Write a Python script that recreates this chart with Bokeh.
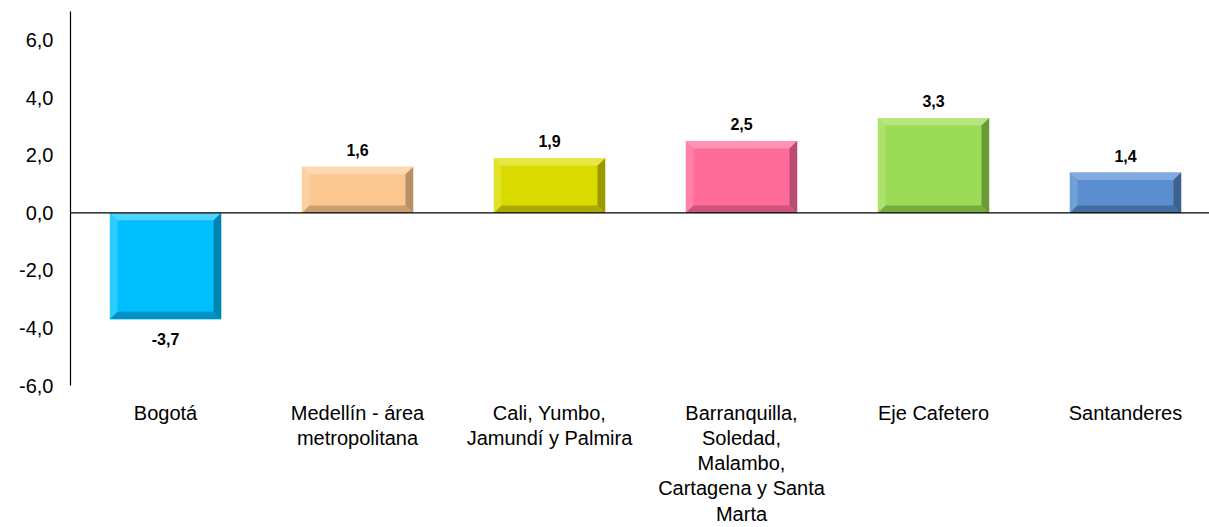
from bokeh.plotting import figure
from bokeh.models import ColumnDataSource, FixedTicker, Span, Range1d
from bokeh.embed import file_html
from bokeh.resources import INLINE
from bokeh.core.properties import value

# ---- data ----
categories = ["Bogotá", "Medellín - área metropolitana", "Cali, Yumbo, Jamundí y Palmira",
              "Barranquilla, Soledad, Malambo, Cartagena y Santa Marta", "Eje Cafetero", "Santanderes"]
tick_labels = ["Bogotá", "Medellín - área\nmetropolitana", "Cali, Yumbo,\nJamundí y Palmira",
               "Barranquilla,\nSoledad,\nMalambo,\nCartagena y Santa\nMarta", "Eje Cafetero", "Santanderes"]
values = [-3.7, 1.6, 1.9, 2.5, 3.3, 1.4]
colors = ["#00BFFF", "#FAC791", "#DADA00", "#FF6B9A", "#9BDB55", "#5A8ED0"]
light = ["#66D9FF", "#FDDDB8", "#EAEA55", "#FF9DBD", "#BDEA8A", "#8FB3E2"]
dark = ["#00759C", "#A8825C", "#8A8A00", "#A84566", "#5E8A33", "#36577F"]
y_ticks = [-6, -4, -2, 0, 2, 4, 6]

FONT = "Liberation Sans"

xs = list(range(len(categories)))
half_w = 0.29
bx, by = 0.04, 0.26

p = figure(width=1209, height=527, output_backend="svg", toolbar_location=None,
           x_range=Range1d(-0.495, 5.4375), y_range=Range1d(-6, 7),
           min_border_left=70, min_border_right=0, min_border_top=11, min_border_bottom=139)
p.outline_line_color = None
p.xgrid.visible = False
p.ygrid.visible = False
p.background_fill_color = "white"

src = ColumnDataSource(dict(x=xs, top=[max(0, v) for v in values], bottom=[min(0, v) for v in values],
                            color=colors))
p.vbar(x="x", top="top", bottom="bottom", width=2 * half_w, fill_color="color", line_color=None, source=src)

# bevel edges
top_x, top_y, right_x, right_y, bot_x, bot_y, left_x, left_y = [], [], [], [], [], [], [], []
for c, v in zip(xs, values):
    y0, y1 = min(0, v), max(0, v)
    l, r = c - half_w, c + half_w
    top_x.append([l, r, r - bx, l + bx]); top_y.append([y1, y1, y1 - by, y1 - by])
    right_x.append([r, r, r - bx, r - bx]); right_y.append([y1, y0, y0 + by, y1 - by])
    bot_x.append([l, r, r - bx, l + bx]); bot_y.append([y0, y0, y0 + by, y0 + by])
    left_x.append([l, l, l + bx, l + bx]); left_y.append([y1, y0, y0 + by, y1 - by])
p.patches(top_x, top_y, fill_color=light, fill_alpha=0.8, line_color=None)
p.patches(left_x, left_y, fill_color=light, fill_alpha=0.45, line_color=None)
p.patches(right_x, right_y, fill_color=dark, fill_alpha=0.8, line_color=None)
p.patches(bot_x, bot_y, fill_color=dark, fill_alpha=0.6, line_color=None)

# zero line
p.add_layout(Span(location=0, dimension="width", line_color="black", line_width=1.2))

# value labels
lab = ColumnDataSource(dict(
    x=xs, y=values,
    text=[f"{v:.1f}".replace(".", ",") for v in values],
    off=[-11 if v >= 0 else 14 for v in values],
    base=["bottom" if v >= 0 else "top" for v in values]))
p.text(x="x", y="y", text="text", y_offset="off", text_baseline="base", text_align="center",
       text_font=value(FONT), text_font_style="bold", text_font_size="16px", text_color="black",
       source=lab)

# axes
p.xaxis.ticker = FixedTicker(ticks=xs)
p.xaxis.major_label_overrides = {i: t for i, t in zip(xs, tick_labels)}
p.xaxis.axis_line_color = None
p.xaxis.major_tick_line_color = None
p.xaxis.minor_tick_line_color = None
p.xaxis.major_label_text_font = FONT
p.xaxis.major_label_text_font_size = "20px"
p.xaxis.major_label_text_line_height = 1.15
p.xaxis.major_label_text_color = "black"
p.xaxis.major_label_standoff = 16
p.xaxis.major_tick_out = 0
p.xaxis.major_tick_in = 0

p.yaxis.ticker = FixedTicker(ticks=y_ticks)
p.yaxis.major_label_overrides = {t: f"{t:.1f}".replace(".", ",") for t in y_ticks}
p.yaxis.axis_line_color = "black"
p.yaxis.axis_line_width = 1.2
p.yaxis.major_tick_line_color = None
p.yaxis.minor_tick_line_color = None
p.yaxis.major_tick_out = 0
p.yaxis.major_tick_in = 0
p.yaxis.major_label_standoff = 17
p.yaxis.major_label_text_font = FONT
p.yaxis.major_label_text_font_size = "20px"
p.yaxis.major_label_text_color = "black"

open("out.html", "w").write(file_html(p, INLINE))
